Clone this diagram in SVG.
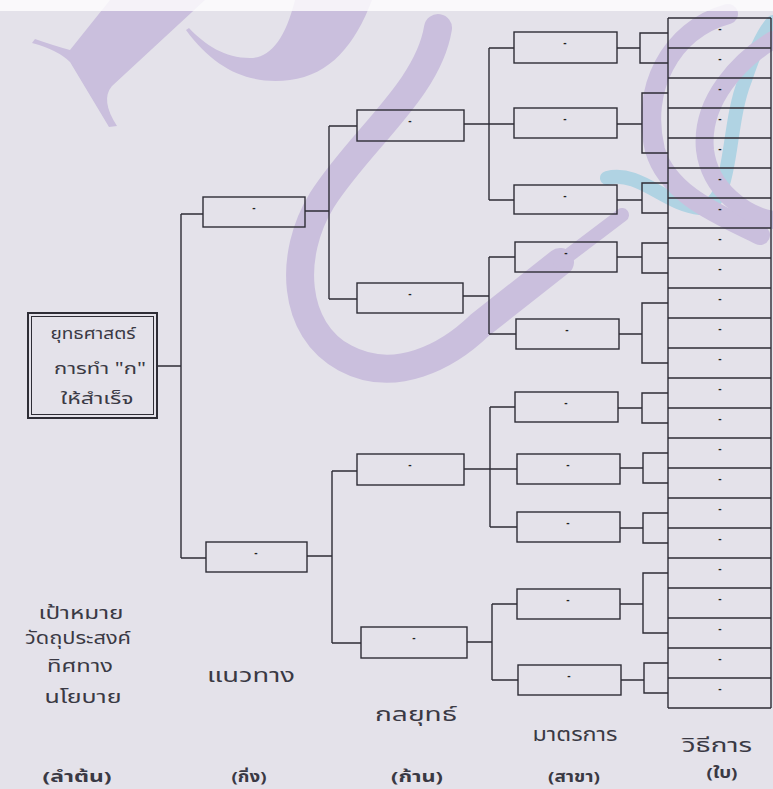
<svg xmlns="http://www.w3.org/2000/svg" width="773" height="789" viewBox="0 0 773 789">
<defs>
<style>
.bx{fill:none;stroke:#2e2d36;stroke-width:1.4}
.ln{fill:none;stroke:#2e2d36;stroke-width:1.4}
.d{font-family:"Liberation Sans",sans-serif;font-size:10px;font-weight:bold;fill:#222;text-anchor:middle}
.t{font-family:"Noto Sans Thai","Noto Sans","DejaVu Sans",sans-serif;fill:#3a3944;text-anchor:middle}
.lb{font-size:20px}
.lf{font-size:18px}
.rt{font-size:16px}
.br{font-size:15px;font-weight:bold}
.wm{fill:#cabfdd}
.wms{fill:none;stroke:#cabfdd;stroke-linecap:round}
.wmc{fill:none;stroke:#b0d3e3;stroke-linecap:round}
</style>
</defs>
<rect x="0" y="0" width="773" height="789" fill="#e4e2ea"/>
<g id="watermark">
<path class="wm" d="M110,0 L205,0 L112,86 Q100,100 117,126 L109,127 L70,62 Q58,50 32,43 L35,39 Q55,46 70,50 Z"/>
<path class="wm" d="M186,30 C215,70 250,85 290,80 C330,75 355,45 372,0 L295,0 C285,40 270,58 250,58 C225,58 205,45 189,28 Z"/>
<path class="wms" stroke-width="28" d="M438,28 C428,90 360,140 322,200 C288,255 292,330 345,358 C395,385 448,356 480,325 L560,262"/>
<path class="wms" stroke-width="14" d="M560,262 L622,215"/>
<path class="wmc" stroke-width="14" d="M607,178 C640,170 665,205 700,208 C735,205 725,130 745,80 C755,50 765,30 773,22"/>
<path class="wms" stroke-width="20" d="M728,14 C670,30 640,90 655,150 C668,195 720,215 760,235"/>
<path class="wms" stroke-width="18" d="M773,40 C740,60 700,100 705,150 C710,190 745,215 773,220"/>
</g>
<rect x="0" y="0" width="773" height="11" fill="#ffffff" opacity="0.8"/>

<g id="connectors">
<path class="ln" d="M157,366 H181 M181,214 V558 M181,214 H203 M181,558 H206"/>
<path class="ln" d="M305,211 H329 M329,126 V299 M329,126 H357 M329,299 H357"/>
<path class="ln" d="M307,556 H332 M332,471 V643 M332,471 H357 M332,643 H361"/>
<path class="ln" d="M464,124 H489 M489,48 V200 M489,48 H514 M489,124 H514 M489,200 H514"/>
<path class="ln" d="M463,296 H489 M489,257 V334 M489,257 H515 M489,334 H516"/>
<path class="ln" d="M464,469 H490 M490,407 V527 M490,407 H515 M490,469 H517 M490,527 H517"/>
<path class="ln" d="M467,642 H492 M492,604 V680 M492,604 H517 M492,680 H518"/>
<path class="ln" d="M617,48 H640 M668,33 H640 V63 H668"/>
<path class="ln" d="M617,124 H642 M668,93 H642 V153 H668"/>
<path class="ln" d="M617,200 H642 M668,183 H642 V213 H668"/>
<path class="ln" d="M617,257 H642 M668,243 H642 V273 H668"/>
<path class="ln" d="M619,334 H642 M668,303 H642 V363 H668"/>
<path class="ln" d="M618,408 H642 M668,393 H642 V423 H668"/>
<path class="ln" d="M620,468 H643 M668,453 H643 V483 H668"/>
<path class="ln" d="M620,528 H643 M668,513 H643 V543 H668"/>
<path class="ln" d="M620,604 H643 M668,573 H643 V633 H668"/>
<path class="ln" d="M621,680 H644 M668,663 H644 V693 H668"/>
</g>

<g id="root">
<rect x="28" y="313" width="129" height="105" fill="none" stroke="#2e2d36" stroke-width="2"/>
<rect x="31.5" y="316.5" width="122" height="98" fill="none" stroke="#2e2d36" stroke-width="1"/>
<text class="t rt" x="93" y="339" textLength="85" lengthAdjust="spacingAndGlyphs">ยุทธศาสตร์</text>
<text class="t rt" x="100" y="374" textLength="92" lengthAdjust="spacingAndGlyphs">การทำ "ก"</text>
<text class="t rt" x="97" y="404" textLength="73" lengthAdjust="spacingAndGlyphs">ให้สำเร็จ</text>
</g>

<g id="l1a"><rect class="bx" x="203" y="197" width="102" height="30"/><text class="d" x="254" y="211">-</text></g>
<g id="l1b"><rect class="bx" x="206" y="542" width="101" height="30"/><text class="d" x="256" y="556">-</text></g>

<g id="l2a"><rect class="bx" x="357" y="110" width="107" height="31"/><text class="d" x="410" y="124">-</text></g>
<g id="l2b"><rect class="bx" x="357" y="283" width="106" height="30"/><text class="d" x="410" y="297">-</text></g>
<g id="l2c"><rect class="bx" x="357" y="454" width="107" height="31"/><text class="d" x="410" y="468">-</text></g>
<g id="l2d"><rect class="bx" x="361" y="627" width="106" height="31"/><text class="d" x="414" y="641">-</text></g>

<g id="m1"><rect class="bx" x="514" y="32" width="103" height="31"/><text class="d" x="565" y="46">-</text></g>
<g id="m2"><rect class="bx" x="514" y="108" width="103" height="30"/><text class="d" x="565" y="122">-</text></g>
<g id="m3"><rect class="bx" x="514" y="185" width="103" height="29"/><text class="d" x="565" y="199">-</text></g>
<g id="m4"><rect class="bx" x="515" y="242" width="102" height="30"/><text class="d" x="566" y="256">-</text></g>
<g id="m5"><rect class="bx" x="516" y="319" width="103" height="30"/><text class="d" x="567" y="333">-</text></g>
<g id="m6"><rect class="bx" x="515" y="392" width="103" height="30"/><text class="d" x="566" y="406">-</text></g>
<g id="m7"><rect class="bx" x="517" y="454" width="103" height="30"/><text class="d" x="568" y="468">-</text></g>
<g id="m8"><rect class="bx" x="517" y="512" width="103" height="30"/><text class="d" x="568" y="526">-</text></g>
<g id="m9"><rect class="bx" x="517" y="589" width="103" height="30"/><text class="d" x="568" y="603">-</text></g>
<g id="m10"><rect class="bx" x="518" y="665" width="103" height="30"/><text class="d" x="569" y="679">-</text></g>

<g id="leaves">
<path class="ln" d="M668,18 V708 M771,18 V708 M668,18 H771 M668,48 H771 M668,78 H771 M668,108 H771 M668,138 H771 M668,168 H771 M668,198 H771 M668,228 H771 M668,258 H771 M668,288 H771 M668,318 H771 M668,348 H771 M668,378 H771 M668,408 H771 M668,438 H771 M668,468 H771 M668,498 H771 M668,528 H771 M668,558 H771 M668,588 H771 M668,618 H771 M668,648 H771 M668,678 H771 M668,708 H771"/>
<text class="d" x="720" y="32">-</text><text class="d" x="720" y="62">-</text><text class="d" x="720" y="92">-</text><text class="d" x="720" y="122">-</text><text class="d" x="720" y="152">-</text><text class="d" x="720" y="182">-</text><text class="d" x="720" y="212">-</text><text class="d" x="720" y="242">-</text><text class="d" x="720" y="272">-</text><text class="d" x="720" y="302">-</text><text class="d" x="720" y="332">-</text><text class="d" x="720" y="362">-</text><text class="d" x="720" y="392">-</text><text class="d" x="720" y="422">-</text><text class="d" x="720" y="452">-</text><text class="d" x="720" y="482">-</text><text class="d" x="720" y="512">-</text><text class="d" x="720" y="542">-</text><text class="d" x="720" y="572">-</text><text class="d" x="720" y="602">-</text><text class="d" x="720" y="632">-</text><text class="d" x="720" y="662">-</text><text class="d" x="720" y="692">-</text>
</g>

<g id="labels">
<text class="t lf" x="81" y="619" textLength="85" lengthAdjust="spacingAndGlyphs">เป้าหมาย</text>
<text class="t lf" x="78" y="644" textLength="106" lengthAdjust="spacingAndGlyphs">วัดถุประสงค์</text>
<text class="t lf" x="80" y="672" textLength="66" lengthAdjust="spacingAndGlyphs">ทิศทาง</text>
<text class="t lf" x="83" y="703" textLength="77" lengthAdjust="spacingAndGlyphs">นโยบาย</text>
<text class="t lb" x="251" y="682" textLength="88" lengthAdjust="spacingAndGlyphs">แนวทาง</text>
<text class="t lb" x="416" y="721" textLength="82" lengthAdjust="spacingAndGlyphs">กลยุทธ์</text>
<text class="t lb" x="575" y="741" textLength="85" lengthAdjust="spacingAndGlyphs">มาตรการ</text>
<text class="t lb" x="717" y="752" textLength="70" lengthAdjust="spacingAndGlyphs">วิธีการ</text>
<text class="t br" x="77" y="782" textLength="69" lengthAdjust="spacingAndGlyphs">(ลำต้น)</text>
<text class="t br" x="249" y="782" textLength="35" lengthAdjust="spacingAndGlyphs">(กิ่ง)</text>
<text class="t br" x="417" y="782" textLength="52" lengthAdjust="spacingAndGlyphs">(ก้าน)</text>
<text class="t br" x="574" y="782" textLength="52" lengthAdjust="spacingAndGlyphs">(สาขา)</text>
<text class="t br" x="722" y="778" textLength="31" lengthAdjust="spacingAndGlyphs">(ใบ)</text>
</g>
</svg>
